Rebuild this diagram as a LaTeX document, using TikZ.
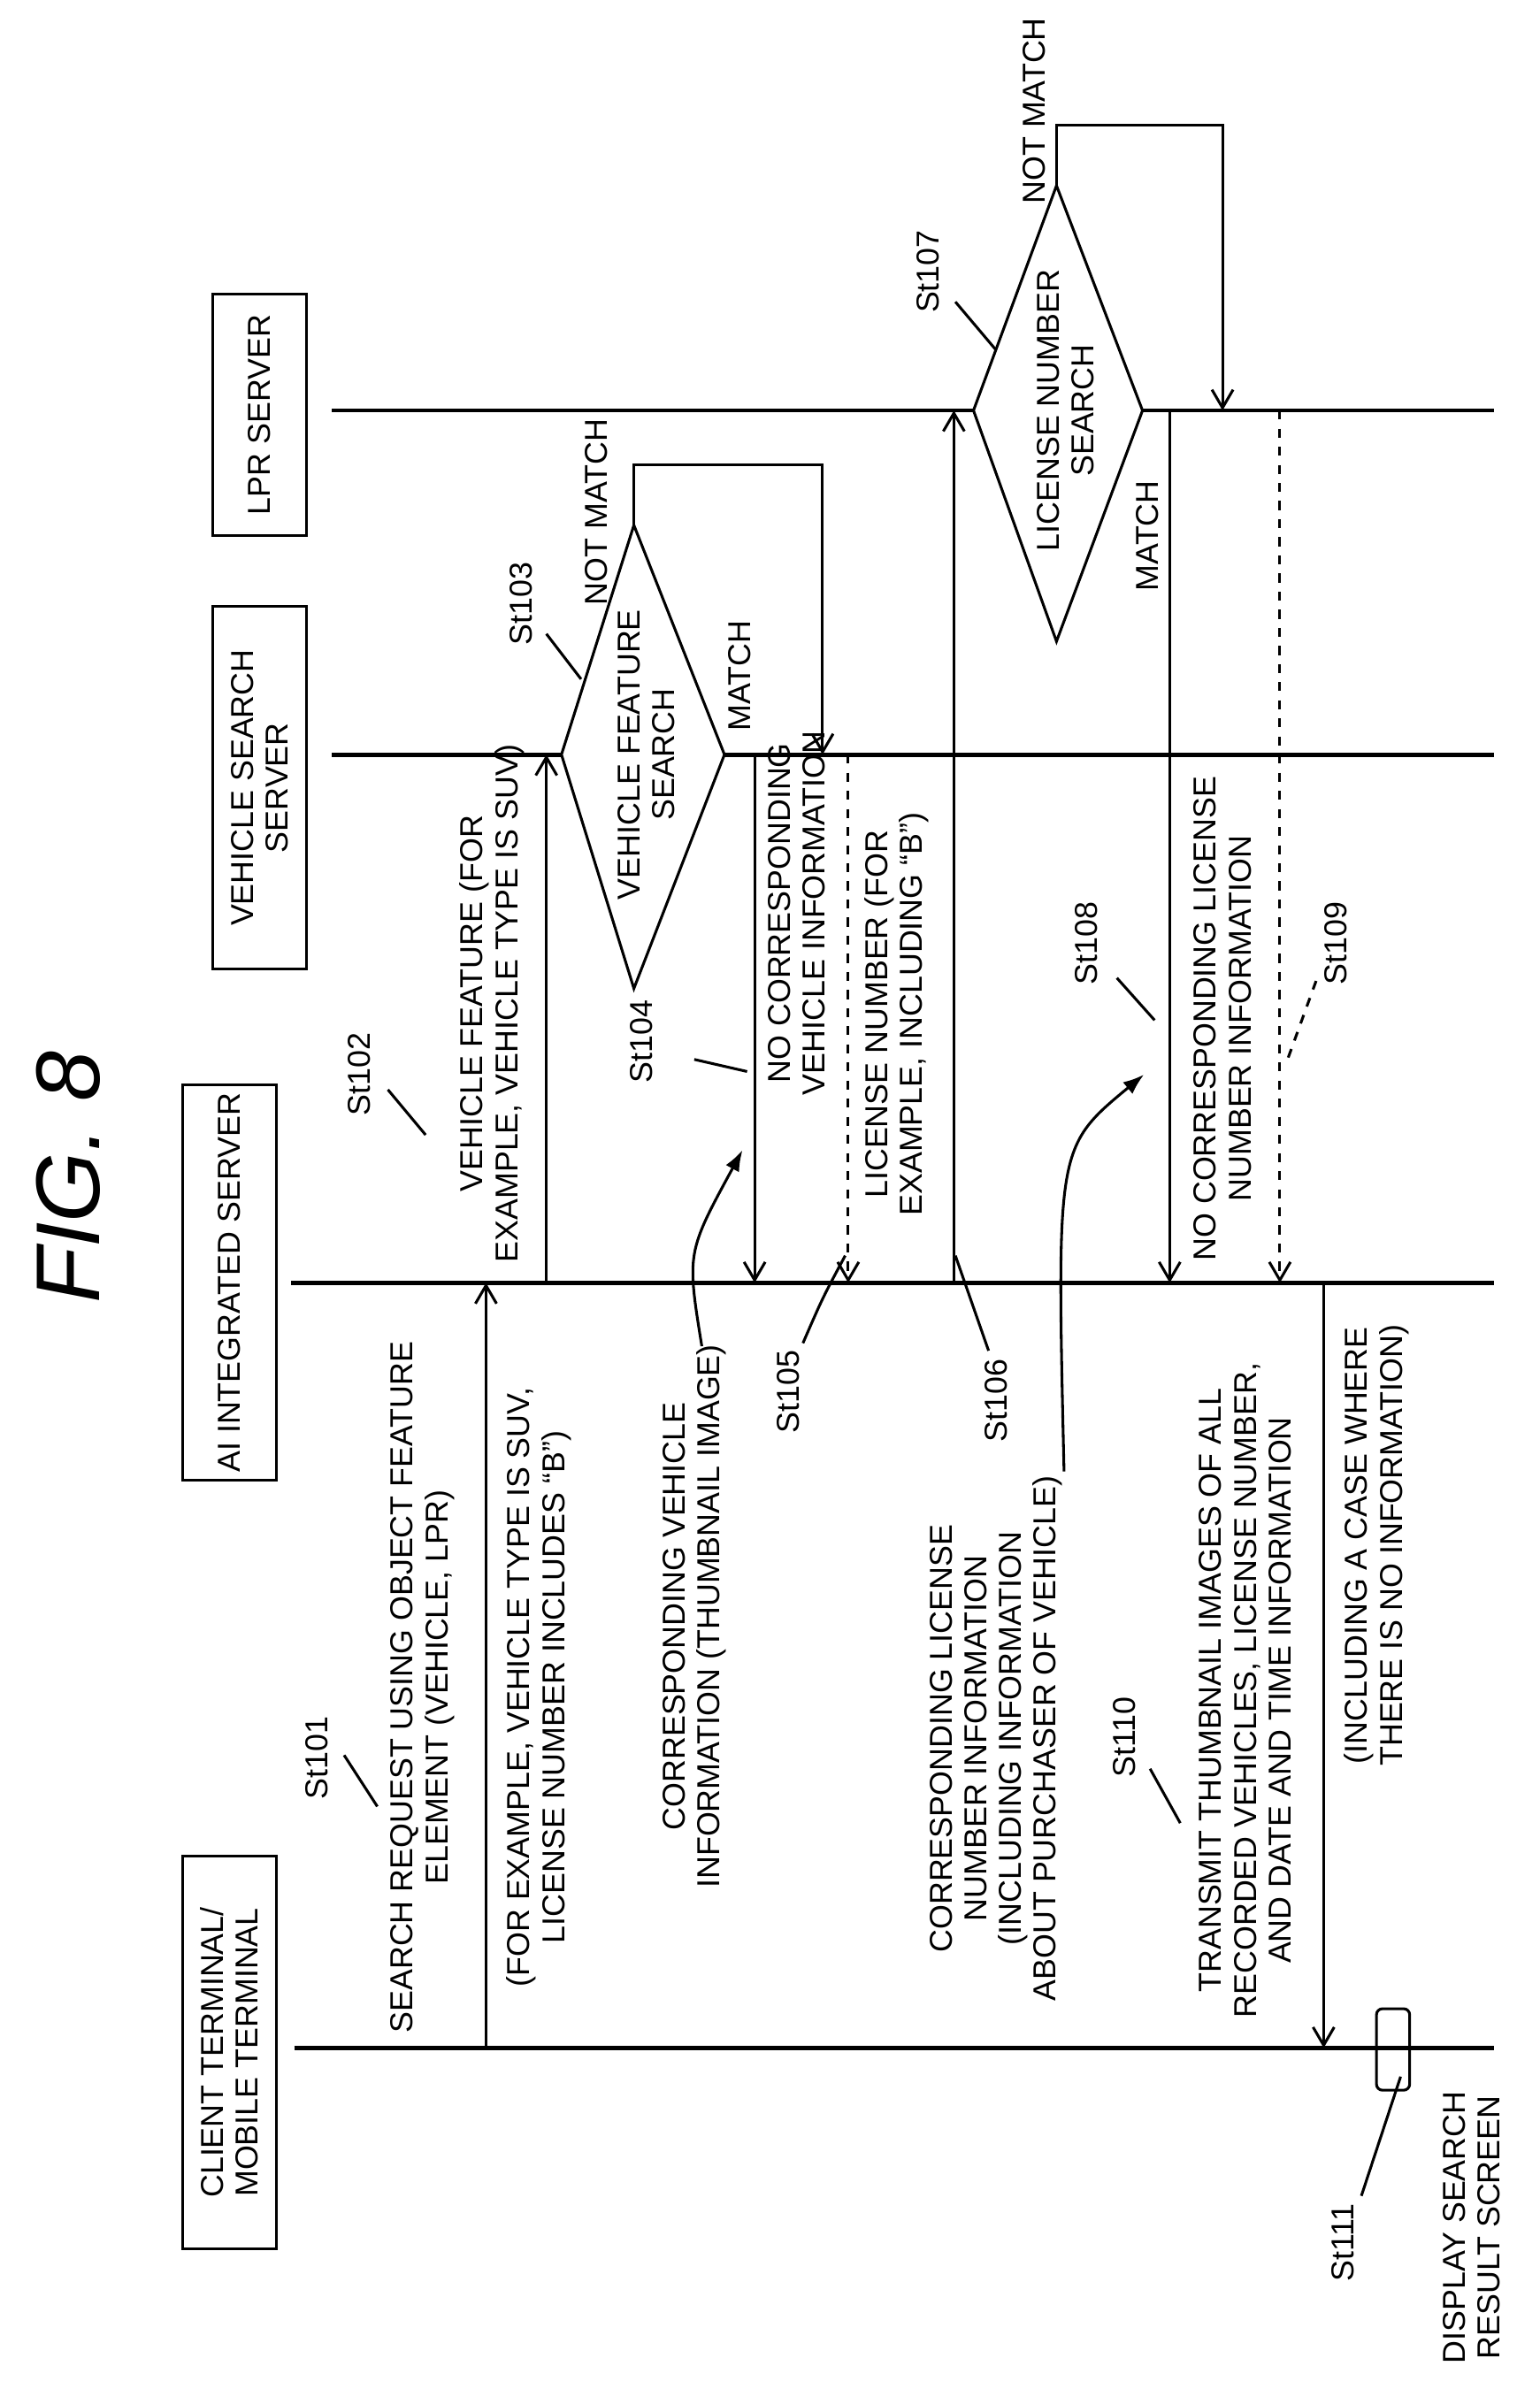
\documentclass[tikz,border=0pt]{standalone}
\usepackage{fontspec}
\setmainfont{Liberation Sans}
\usetikzlibrary{arrows.meta, positioning}

\begin{document}
\begin{tikzpicture} [x=0.5pt, y=-0.5pt,
            line width=0.9pt,
            txt/.style = {rotate=90, align=center, inner sep=0pt,
                font=\fontsize{10.5}{11.5}\selectfont},
            box/.style = {txt, draw, minimum height=31pt},
            life/.style = {line width=1.4pt},
            msg/.style = {-{Straight Barb[length=6pt,width=7pt]}},
            back/.style = {msg, dashed}]

            \useasboundingbox (0,0) rectangle (1020,1583);

            % Title
            \node (title) [rotate=90, font=\fontsize{30}{30}\selectfont\itshape]
                at (45,780) {FIG. 8};

            % Participants
            \node (client) [box, minimum width=130pt] at (152,1360) {CLIENT TERMINAL/\\MOBILE TERMINAL};
            \node (ai) [box, minimum width=131pt] at (152,850) {AI INTEGRATED SERVER};
            \node (vss) [box, minimum width=120pt] at (172,522) {VEHICLE SEARCH\\SERVER};
            \node (lpr) [box, minimum width=80pt] at (172,275) {LPR SERVER};

            % Lifelines
            \draw [life] (195,1357) -- (990,1357);
            \draw [life] (193,850) -- (990,850);
            \draw [life] (220,500) -- (372,500) (480,500) -- (990,500);
            \draw [life] (220,272) -- (645,272) (757,272) -- (990,272);

            % St103 diamond
            \coordinate (d1l) at (372,500);
            \coordinate (d1r) at (480,500);
            \coordinate (d1t) at (420,348);
            \coordinate (d1b) at (420,655);
            \draw (d1l) -- (d1t) -- (d1r) -- (d1b) -- cycle;
            \node (d1) [txt] at (428,500) {VEHICLE FEATURE\\SEARCH};
            \node (nm1) [txt, anchor=west] at (395,402) {NOT MATCH};
            \node (m1) [txt] at (490,448) {MATCH};
            \coordinate (lp1) at (545,500);
            \draw [msg] (d1t) -- (420,308) -| (lp1);

            % St107 diamond
            \coordinate (d2l) at (645,272);
            \coordinate (d2r) at (757,272);
            \coordinate (d2t) at (700,123);
            \coordinate (d2b) at (700,425);
            \draw (d2l) -- (d2t) -- (d2r) -- (d2b) -- cycle;
            \node (d2) [txt] at (706,272) {LICENSE NUMBER\\SEARCH};
            \node (nm2) [txt, anchor=west] at (685,136) {NOT MATCH};
            \node (m2) [txt] at (760,355) {MATCH};
            \coordinate (lp2) at (810,272);
            \draw [msg] (d2t) -- (700,83) -| (lp2);

            % Messages
            \draw [msg] (322,1357) -- (322,850);
            \draw [msg] (362,850) -- (362,500);
            \draw [msg] (500,500) -- (500,850);
            \draw [back] (562,500) -- (562,850);
            \draw [msg] (632,850) -- (632,272);
            \draw [msg] (775,272) -- (775,850);
            \draw [back] (848,272) -- (848,850);
            \draw [msg] (877,850) -- (877,1357);

            % Display on the client
            \node (disp) [draw, rounded corners=2pt, minimum width=11pt,
                minimum height=27pt, inner sep=0pt] at (923,1358) {};

            % Message texts
            \node (t101) [txt] at (280,1118) {SEARCH REQUEST USING OBJECT FEATURE\\ELEMENT (VEHICLE, LPR)};
            \node (t101b) [txt] at (357,1118) {(FOR EXAMPLE, VEHICLE TYPE IS SUV,\\LICENSE NUMBER INCLUDES ``B'')};
            \node (t102) [txt] at (326,665) {VEHICLE FEATURE (FOR\\EXAMPLE, VEHICLE TYPE IS SUV)};
            \node (t104) [txt] at (528,605) {NO CORRESPONDING\\VEHICLE INFORMATION};
            \node (t105) [txt] at (594,672) {LICENSE NUMBER (FOR\\EXAMPLE, INCLUDING ``B'')};
            \node (t104b) [txt] at (460,1071) {CORRESPONDING VEHICLE\\INFORMATION (THUMBNAIL IMAGE)};
            \node (t108) [txt] at (810,675) {NO CORRESPONDING LICENSE\\NUMBER INFORMATION};
            \node (t106) [txt] at (660,1152) {CORRESPONDING LICENSE\\NUMBER INFORMATION\\(INCLUDING INFORMATION\\ABOUT PURCHASER OF VEHICLE)};
            \node (t110) [txt] at (825,1120) {TRANSMIT THUMBNAIL IMAGES OF ALL\\RECORDED VEHICLES, LICENSE NUMBER,\\AND DATE AND TIME INFORMATION};
            \node (t110b) [txt] at (912,1024) {(INCLUDING A CASE WHERE\\THERE IS NO INFORMATION)};
            \node (t111) [txt] at (975,1476) {DISPLAY SEARCH\\RESULT SCREEN};

            % Step labels
            \node (s101) [txt] at (210,1165) {St101};
            \node (s102) [txt] at (238,712) {St102};
            \node (s103) [txt] at (345,400) {St103};
            \node (s104) [txt] at (425,690) {St104};
            \node (s105) [txt] at (522,922) {St105};
            \node (s106) [txt] at (660,928) {St106};
            \node (s107) [txt] at (615,180) {St107};
            \node (s108) [txt] at (720,625) {St108};
            \node (s109) [txt] at (885,625) {St109};
            \node (s110) [txt] at (745,1151) {St110};
            \node (s111) [txt] at (890,1486) {St111};

            % Leaders
            \draw (228,1163) -- (250,1197);
            \draw (257,722) -- (282,752);
            \draw (362,420) -- (385,450);
            \draw (460,702) -- (495,710);
            \draw (532,890) .. controls (545,860) .. (560,832);
            \draw (655,895) -- (633,832);
            \draw (633,200) -- (660,232);
            \draw (740,648) -- (765,676);
            \draw [dashed] (872,650) -- (852,705);
            \draw (762,1172) -- (782,1208);
            \draw (902,1455) -- (928,1376);
            \draw [-{Latex[length=7pt,width=5pt]}] (465,892) .. controls (455,830) .. (492,762);
            \draw [-{Latex[length=7pt,width=5pt]}] (705,975) .. controls (700,760) .. (758,712);
        \end{tikzpicture}
\end{document}
